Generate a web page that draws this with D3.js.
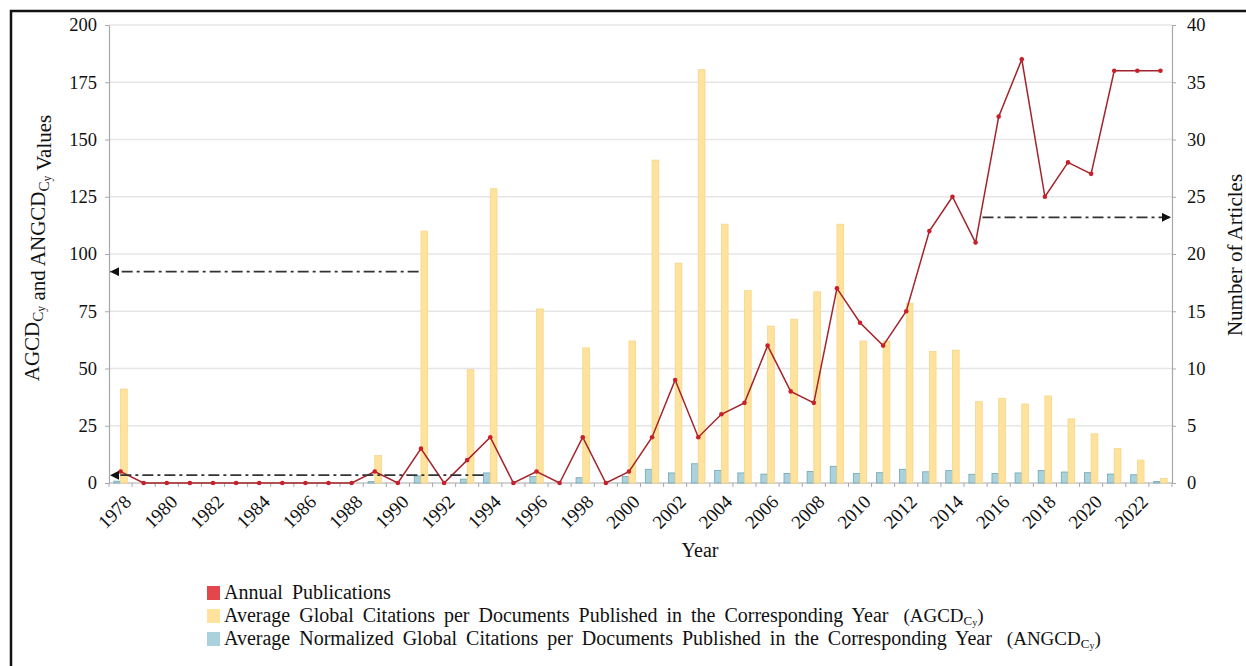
<!DOCTYPE html>
<html>
<head>
<meta charset="utf-8">
<script src="https://cdn.jsdelivr.net/npm/d3@7"></script>
<style>
  html, body { margin: 0; padding: 0; background: #fff; }
  svg { display: block; font-family: "Liberation Serif", "Times New Roman", serif; }
</style>
</head>
<body>
<svg id="chart" width="1246" height="666"></svg>
<script>
// Publication years (categories)
const years = [1978,1979,1980,1981,1982,1983,1984,1985,1986,1987,1988,1989,1990,1991,1992,1993,
  1994,1995,1996,1997,1998,1999,2000,2001,2002,2003,2004,2005,2006,2007,2008,2009,2010,2011,
  2012,2013,2014,2015,2016,2017,2018,2019,2020,2021,2022,2023];

// Average global citations per document (left axis)
const agcd = [41,0,0,0,0,0,0,0,0,0,0,12,0,110,0,49.5,
  128.5,0,76,0,59,0,62,141,96,180.5,113,84,68.5,71.5,83.5,113,62,62,
  78.5,57.5,58,35.5,37,34.5,38,28,21.5,15,10,2];

// Average normalized global citations per document (left axis)
const angcd = [0.8,0,0,0,0,0,0,0,0,0,0,0.6,0,3.1,0,1.7,
  4.4,0,2.8,0,2.3,0,2.8,6.0,4.4,8.4,5.5,4.4,3.9,4.2,5.0,7.3,4.2,4.5,
  6.0,4.9,5.4,3.8,4.2,4.4,5.5,4.8,4.5,3.9,3.6,0.7];

// Annual publications (right axis)
const articles = [1,0,0,0,0,0,0,0,0,0,0,1,0,3,0,2,
  4,0,1,0,4,0,1,4,9,4,6,7,12,8,7,17,14,12,
  15,22,25,21,32,37,25,28,27,36,36,36];

// Axis ticks
const leftTicks = [0,25,50,75,100,125,150,175,200];
const rightTicks = [0,5,10,15,20,25,30,35,40];
const labelYears = years.filter(y => y % 2 === 0);

// Guide arrows: start position (in year units), level, and which axis they point to
const guideFrom = [1990.9, 1993.7, 2015.3];
const guideLevel = [92.3, 3.4, 23.2];
const guideAxis = ["left", "left", "right"];

// Legend entries
const legendLabels = [
  {text: "Annual Publications", sub: null},
  {text: "Average Global Citations per Documents Published in the Corresponding Year ", sub: "AGCD"},
  {text: "Average Normalized Global Citations per Documents Published in the Corresponding Year ", sub: "ANGCD"}
];
const legendColors = ["#E2474B", "#FFE29C", "#A9D2DC"];

const svg = d3.select("#chart");
const plotL = 109, plotR = 1172, plotT = 25, plotB = 483;

const x = d3.scaleBand().domain(years).range([plotL, plotR]).padding(0);
const bw = x.bandwidth();
const cx = y => x(y) + bw / 2;
const xYear = d3.scaleLinear().domain([years[0], years[years.length - 1]]).range([cx(years[0]), cx(years[years.length - 1])]);
const yL = d3.scaleLinear().domain([0, 200]).range([plotB, plotT]);
const yR = d3.scaleLinear().domain([0, 40]).range([plotB, plotT]);

// Outer frame
svg.append("rect").attr("x", 11).attr("y", 11).attr("width", 1300).attr("height", 700)
  .attr("fill", "none").attr("stroke", "#111").attr("stroke-width", 2.5);

// Horizontal gridlines
svg.append("g").selectAll("line").data(leftTicks.filter(d => d > 0)).join("line")
  .attr("x1", plotL).attr("x2", plotR)
  .attr("y1", d => yL(d)).attr("y2", d => yL(d))
  .attr("stroke", "#E6E6E6").attr("stroke-width", 1.5);

// Left axis
const gL = svg.append("g").attr("transform", `translate(${plotL},0)`)
  .call(d3.axisLeft(yL).tickValues(leftTicks).tickSize(4).tickPadding(8).tickSizeOuter(0));
gL.select(".domain").attr("stroke", "#A8A8A8").attr("stroke-width", 1.2);
gL.selectAll(".tick line").attr("stroke", "#A8A8A8");
gL.selectAll(".tick text").attr("font-size", 18.5).attr("fill", "#111")
  .attr("font-family", "Liberation Serif, serif");

// Right axis
const gR = svg.append("g").attr("transform", `translate(${plotR},0)`)
  .call(d3.axisRight(yR).tickValues(rightTicks).tickSize(4).tickPadding(11).tickSizeOuter(0));
gR.select(".domain").attr("stroke", "#A8A8A8").attr("stroke-width", 1.2);
gR.selectAll(".tick line").attr("stroke", "#A8A8A8");
gR.selectAll(".tick text").attr("font-size", 18.5).attr("fill", "#111")
  .attr("font-family", "Liberation Serif, serif");

// Bottom axis: baseline, boundary ticks, rotated year labels
svg.append("line").attr("x1", plotL).attr("x2", plotR).attr("y1", plotB).attr("y2", plotB)
  .attr("stroke", "#A8A8A8").attr("stroke-width", 1.2);
svg.append("g").selectAll("line").data(years.concat([years[years.length - 1] + 1])).join("line")
  .attr("x1", d => d <= years[years.length - 1] ? x(d) : plotR)
  .attr("x2", d => d <= years[years.length - 1] ? x(d) : plotR)
  .attr("y1", plotB).attr("y2", plotB + 4)
  .attr("stroke", "#A8A8A8");
svg.append("g").selectAll("text").data(labelYears).join("text")
  .attr("transform", d => `translate(${cx(d) + 12},${plotB + 20}) rotate(-45)`)
  .attr("text-anchor", "end")
  .attr("font-size", 19).attr("fill", "#111")
  .text(d => d);

// Bars: normalized citations left of centre, global citations right of centre
const barW = bw * 0.29;
svg.append("g").selectAll("rect").data(years).join("rect")
  .attr("x", d => cx(d) - barW)
  .attr("width", barW)
  .attr("y", (d, i) => yL(angcd[i]))
  .attr("height", (d, i) => plotB - yL(angcd[i]))
  .attr("fill", "#A9D2DC").attr("stroke", "#6FA6B4").attr("stroke-width", 0.8);
svg.append("g").selectAll("rect").data(years).join("rect")
  .attr("x", d => cx(d))
  .attr("width", barW)
  .attr("y", (d, i) => yL(agcd[i]))
  .attr("height", (d, i) => plotB - yL(agcd[i]))
  .attr("fill", "#FFE29C").attr("stroke", "#F6D58A").attr("stroke-width", 0.8);

// Annual publications line
const line = d3.line().x((d, i) => cx(years[i])).y(d => yR(d));
svg.append("path").datum(articles).attr("d", line)
  .attr("fill", "none").attr("stroke", "#A3242A").attr("stroke-width", 1.5);
svg.append("g").selectAll("circle").data(articles).join("circle")
  .attr("cx", (d, i) => cx(years[i])).attr("cy", d => yR(d))
  .attr("r", 2.3).attr("fill", "#C8202A");

// Guide arrows
const defs = svg.append("defs");
defs.append("marker").attr("id", "arrowhead")
  .attr("viewBox", "0 0 10 10").attr("refX", 10).attr("refY", 5)
  .attr("markerWidth", 10).attr("markerHeight", 9)
  .attr("markerUnits", "userSpaceOnUse").attr("orient", "auto")
  .append("path").attr("d", "M0,0 L10,5 L0,10 Z").attr("fill", "#111");
svg.append("g").selectAll("line").data(guideFrom).join("line")
  .attr("x1", d => xYear(d))
  .attr("x2", (d, i) => guideAxis[i] === "left" ? plotL + 1 : plotR - 1)
  .attr("y1", (d, i) => guideAxis[i] === "left" ? yL(guideLevel[i]) : yR(guideLevel[i]))
  .attr("y2", (d, i) => guideAxis[i] === "left" ? yL(guideLevel[i]) : yR(guideLevel[i]))
  .attr("stroke", "#333").attr("stroke-width", 1.8)
  .attr("stroke-dasharray", "11,4,3,4")
  .attr("marker-end", "url(#arrowhead)");

// Axis titles
const ttl = svg.append("text")
  .attr("transform", "translate(39,248) rotate(-90)")
  .attr("text-anchor", "middle").attr("font-size", 21).attr("fill", "#111");
function subCy(t, size) {
  t.append("tspan").attr("font-size", size * 0.72).attr("dy", 4).text("C");
  t.append("tspan").attr("font-size", size * 0.55).attr("dy", 2).text("y");
  t.append("tspan").attr("dy", -6).text("");
}
ttl.append("tspan").text("AGCD");
subCy(ttl, 21);
ttl.append("tspan").text(" and ANGCD");
subCy(ttl, 21);
ttl.append("tspan").text(" Values");

svg.append("text")
  .attr("transform", "translate(1242,255) rotate(-90)")
  .attr("text-anchor", "middle").attr("font-size", 21).attr("fill", "#111")
  .text("Number of Articles");

svg.append("text").attr("x", 700).attr("y", 557)
  .attr("text-anchor", "middle").attr("font-size", 20).attr("fill", "#111")
  .text("Year");

// Legend
const lg = svg.append("g");
legendLabels.forEach((d, i) => {
  const yy = 593 + i * 23;
  lg.append("rect").attr("x", 207).attr("y", yy - 7).attr("width", 13).attr("height", 14)
    .attr("fill", legendColors[i]);
  const t = lg.append("text").attr("x", 224).attr("y", yy + 6)
    .attr("font-size", 20).attr("fill", "#111").attr("word-spacing", 4);
  t.append("tspan").text(d.text);
  if (d.sub) {
    t.append("tspan").attr("font-size", 19).attr("dx", 6).text("(" + d.sub);
    t.append("tspan").attr("font-size", 13).attr("dy", 3).text("C");
    t.append("tspan").attr("font-size", 10).attr("dy", 1).text("y");
    t.append("tspan").attr("font-size", 19).attr("dy", -4).text(")");
  }
});
</script>
</body>
</html>
